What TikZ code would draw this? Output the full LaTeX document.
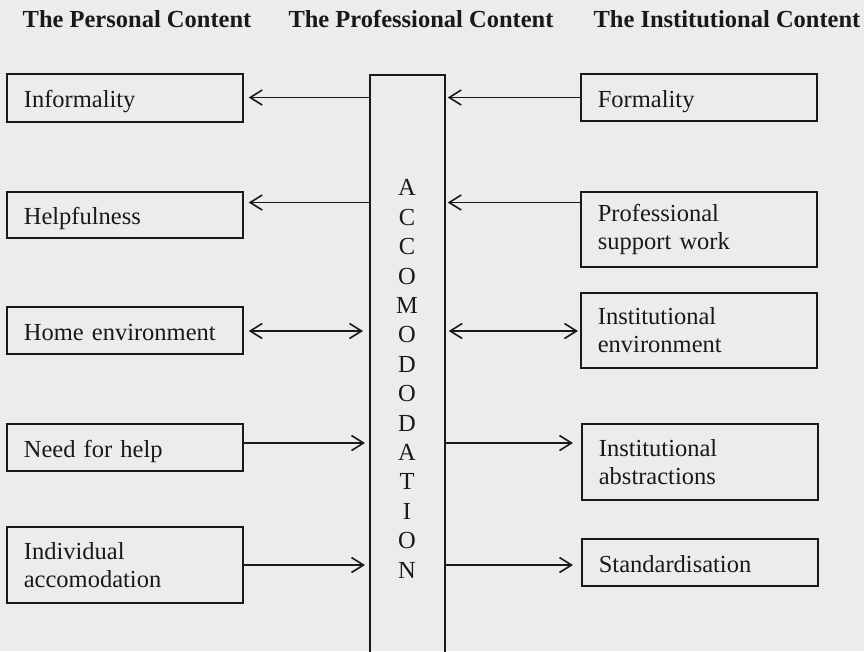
\documentclass[tikz,border=0pt]{standalone}
\usepackage{fontspec}
\setmainfont{Liberation Serif}
\usetikzlibrary{arrows.meta}
\definecolor{bg}{RGB}{236,236,236}
\definecolor{ink}{RGB}{25,25,25}
\tikzset{
  box/.style={draw=ink, line width=1.7pt, anchor=north west, minimum width=236pt,
    text width=202pt, inner xsep=17pt, inner ysep=0pt, align=left, text=ink,
    font=\fontsize{24.5}{28}\selectfont},
  oneline/.style={text height=20pt, text depth=0pt},
  head/.style={anchor=base, text=ink, font=\fontsize{24.5}{28}\selectfont\bfseries, inner sep=0pt},
  arr/.style={draw=ink, line width=1.6pt, -{Straight Barb[length=12pt,width=15pt,line width=1.6pt]}},
  darr/.style={draw=ink, line width=1.6pt, {Straight Barb[length=12pt,width=15pt,line width=1.6pt]}-{Straight Barb[length=12pt,width=15pt,line width=1.6pt]}}
}
\begin{document}
\begin{tikzpicture}[x=1pt,y=-1pt]
\fill[bg] (0,0) rectangle (864,651);
\useasboundingbox (0,0) rectangle (864,651);
\clip (0,0) rectangle (864,651);

% headings
\node[head] (h1) at (137,27) {The Personal Content};
\node[head] (h2) at (421,27) {The Professional Content};
\node[head] (h3) at (727,27) {The Institutional Content};

% central bar
\node[draw=ink, line width=1.7pt, anchor=north west, minimum width=75pt, minimum height=590pt, inner sep=0pt] (bar) at (369,74) {};
\node[text=ink, align=center, inner sep=0pt, font=\fontsize{24.5}{29.4}\selectfont] (acc) at (407,379)
  {A\\C\\C\\O\\M\\O\\D\\O\\D\\A\\T\\I\\O\\N};

% left boxes
\node[box, oneline, minimum height=48pt] (inf) at (6,73) {Informality};
\node[box, oneline, minimum height=46pt] (hel) at (6,191) {Helpfulness};
\node[box, oneline, minimum height=47pt] (home) at (6,306) {Home environment};
\node[box, oneline, minimum height=47pt] (need) at (6,423) {Need for help};
\node[box, minimum height=76pt] (ind) at (6,526) {Individual\\accomodation};

% right boxes
\node[box, oneline, minimum height=47pt] (form) at (580,73) {Formality};
\node[box, minimum height=75pt] (prof) at (580,191) {Professional\\support work};
\node[box, minimum height=75pt] (inenv) at (580,292) {Institutional\\environment};
\node[box, minimum height=76pt, minimum width=234pt] (abs) at (581,423) {Institutional\\abstractions};
\node[box, oneline, minimum height=47pt, minimum width=234pt] (std) at (581,538) {Standardisation};

% row heights
\coordinate (r1) at (0,97.5);
\coordinate (r2) at (0,202.5);
\coordinate (r3) at (0,331);
\coordinate (r4) at (0,443);
\coordinate (r5) at (0,565);

% left arrows
\draw[arr, shorten >=5pt] (bar.west |- r1) -- (inf.east |- r1);
\draw[arr, shorten >=5pt] (bar.west |- r2) -- (hel.east |- r2);
\draw[darr, shorten <=5pt, shorten >=6pt] (home.east |- r3) -- (bar.west |- r3);
\draw[arr, shorten >=4pt] (need.east |- r4) -- (bar.west |- r4);
\draw[arr, shorten >=4pt] (ind.east |- r5) -- (bar.west |- r5);

% right arrows
\draw[arr, shorten >=2pt] (form.west |- r1) -- (bar.east |- r1);
\draw[arr, shorten >=2pt] (prof.west |- r2) -- (bar.east |- r2);
\draw[darr, shorten <=3pt, shorten >=2pt] (bar.east |- r3) -- (inenv.west |- r3);
\draw[arr, shorten >=8pt] (bar.east |- r4) -- (abs.west |- r4);
\draw[arr, shorten >=8pt] (bar.east |- r5) -- (std.west |- r5);
\end{tikzpicture}
\end{document}
